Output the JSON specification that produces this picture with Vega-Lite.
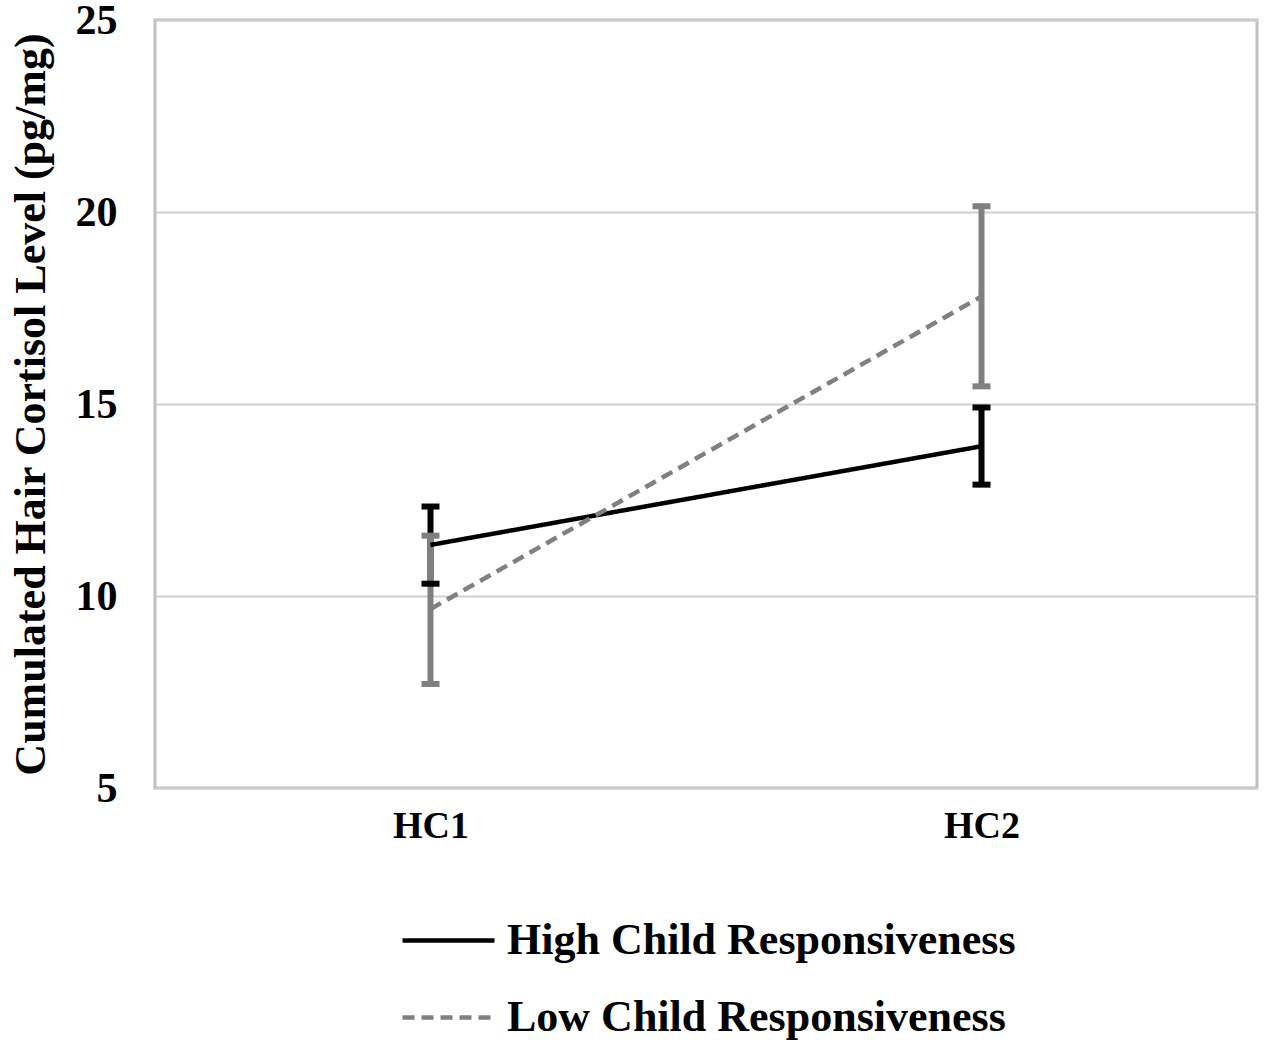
{
  "$schema": "https://vega.github.io/schema/vega-lite/v6.json",
  "autosize": "none",
  "padding": {"left": 155, "top": 20, "right": 10, "bottom": 257},
  "width": 1102,
  "height": 768,
  "background": "white",
  "view": {"stroke": "#bfbfbf", "strokeWidth": 3},
  "data": {
    "values": [
      {"group": "High Child Responsiveness", "time": "HC1", "mean": 11.33, "lo": 10.32, "hi": 12.33},
      {"group": "High Child Responsiveness", "time": "HC2", "mean": 13.9, "lo": 12.9, "hi": 14.91},
      {"group": "Low Child Responsiveness", "time": "HC1", "mean": 9.66, "lo": 7.71, "hi": 11.57},
      {"group": "Low Child Responsiveness", "time": "HC2", "mean": 17.8, "lo": 15.46, "hi": 20.15}
    ]
  },
  "encoding": {
    "x": {
      "field": "time",
      "type": "ordinal",
      "scale": {"type": "point", "padding": 0.5},
      "axis": {
        "title": null,
        "labelAngle": 0,
        "domain": false,
        "ticks": false,
        "grid": false,
        "labelPadding": 19,
        "labelFontSize": 38
      }
    },
    "color": {
      "field": "group",
      "type": "nominal",
      "scale": {
        "domain": ["High Child Responsiveness", "Low Child Responsiveness"],
        "range": ["#000000", "#808080"]
      },
      "legend": {"title": null}
    }
  },
  "layer": [
    {
      "mark": {"type": "rule", "strokeWidth": 6},
      "encoding": {
        "y": {
          "field": "lo",
          "type": "quantitative",
          "scale": {"domain": [5, 25], "padding": 0, "nice": false},
          "axis": {
            "title": "Cumulated Hair Cortisol Level (pg/mg)",
            "values": [5, 10, 15, 20, 25],
            "grid": true,
            "gridColor": "#d0d0d0",
            "gridWidth": 2,
            "domain": false,
            "ticks": false,
            "labelPadding": 38,
            "labelFontSize": 42,
            "titleFontSize": 44,
            "titlePadding": 22
          }
        },
        "y2": {"field": "hi"}
      }
    },
    {
      "mark": {"type": "tick", "size": 18, "thickness": 6, "opacity": 1},
      "encoding": {
        "y": {"field": "lo", "type": "quantitative"}
      }
    },
    {
      "mark": {"type": "tick", "size": 18, "thickness": 6, "opacity": 1},
      "encoding": {
        "y": {"field": "hi", "type": "quantitative"}
      }
    },
    {
      "mark": {"type": "line", "strokeWidth": 4.5},
      "encoding": {
        "y": {"field": "mean", "type": "quantitative"},
        "strokeDash": {
          "field": "group",
          "type": "nominal",
          "scale": {
            "domain": ["High Child Responsiveness", "Low Child Responsiveness"],
            "range": [[1, 0], [12, 7]]
          },
          "legend": {"title": null}
        }
      }
    }
  ],
  "config": {
    "font": "Liberation Serif",
    "axis": {
      "labelFont": "Liberation Serif",
      "labelFontWeight": "bold",
      "labelColor": "#000000",
      "titleFont": "Liberation Serif",
      "titleFontWeight": "bold",
      "titleColor": "#000000"
    },
    "legend": {
      "orient": "none",
      "legendX": 245,
      "legendY": 872,
      "symbolType": "stroke",
      "symbolSize": 8464,
      "symbolStrokeWidth": 4.5,
      "symbolOpacity": 1,
      "labelFont": "Liberation Serif",
      "labelFontWeight": "bold",
      "labelFontSize": 44,
      "labelColor": "#000000",
      "labelOffset": 10,
      "labelLimit": 0,
      "rowPadding": 6
    }
  }
}
